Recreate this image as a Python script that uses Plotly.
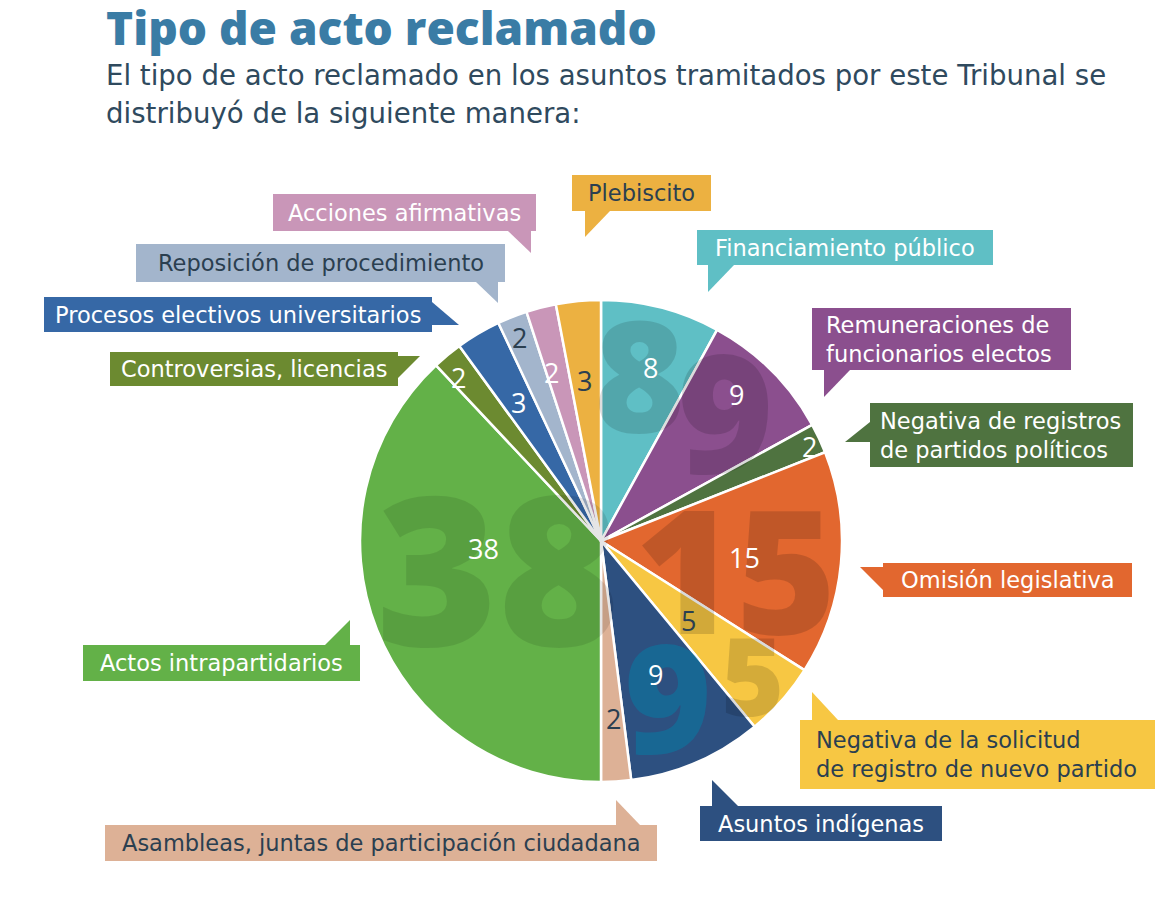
import math
import plotly.graph_objects as go

# page has an 8px body margin; the figure is sized to fit the 1170x913 window
OFF = 8
W, H = 1170 - 2 * OFF, 913 - 2 * OFF

# ---- data ----
categorias = [
    "Financiamiento público",
    "Remuneraciones de\nfuncionarios electos",
    "Negativa de registros\nde partidos políticos",
    "Omisión legislativa",
    "Negativa de la solicitud\nde registro de nuevo partido",
    "Asuntos indígenas",
    "Asambleas, juntas de participación ciudadana",
    "Actos intrapartidarios",
    "Controversias, licencias",
    "Procesos electivos universitarios",
    "Reposición de procedimiento",
    "Acciones afirmativas",
    "Plebiscito",
]
valores = [8, 9, 2, 15, 5, 9, 2, 38, 2, 3, 2, 2, 3]

titulo = "Tipo de acto reclamado"
subtitulo = ["El tipo de acto reclamado en los asuntos tramitados por este Tribunal se",
             "distribuyó de la siguiente manera:"]

# ---- styles ----
colores = ["#5FBFC5", "#8B4F8E", "#4F7340", "#E2672F", "#F7C743", "#2D5080",
           "#DDB196", "#63B148", "#6C8A30", "#3668A6", "#A3B5CC", "#C996B8", "#ECB141"]
DARK = "#2B3F50"
txtcol = ["white", "white", "white", "white", DARK, "white",
          DARK, "white", "white", "white", DARK, "white", DARK]
FONT = "DejaVu Sans"
NUMFONT = "Open Sans"

# pie geometry (window pixels)
CX, CY, R = 601, 541, 241

# value-label placement inside each slice: (fraction along slice, fraction of radius)
lab_pos = [(0.55, 0.75), (0.43, 0.83), (0.6, 0.95), (0.52, 0.6), (0.55, 0.49),
           (0.54, 0.6), (0.46, 0.74), (0.63, 0.49), (0.3, 0.9), (0.47, 0.67),
           (0.47, 0.91), (0.25, 0.73), (0.47, 0.67)]
# big decorative numbers: index -> (fraction along slice, radius fraction, size, colour)
overlay = {
    7: (0.56, 0.44, 208, "rgba(0,0,0,0.10)"),
    3: (0.6, 0.57, 172, "rgba(0,0,0,0.15)"),
    0: (0.45, 0.72, 155, "rgba(0,0,0,0.13)"),
    1: (0.45, 0.75, 165, "rgba(0,0,0,0.14)"),
    5: (0.5, 0.70, 150, "rgba(0,130,170,0.45)"),
    4: (0.5, 0.84, 108, "rgba(0,0,0,0.14)"),
}


def px(x):
    return (x - OFF) / W


def py(y):
    return 1 - (y - OFF) / H


fig = go.Figure()
fig.add_trace(go.Pie(
    labels=[c.replace("\n", " ") for c in categorias],
    values=valores,
    sort=False,
    direction="clockwise",
    rotation=0,
    marker=dict(colors=colores, line=dict(color="white", width=2.5)),
    textinfo="none",
    hoverinfo="label+value",
    showlegend=False,
    domain=dict(x=[px(CX - R), px(CX + R)], y=[py(CY + R), py(CY - R)]),
))

shapes = []
annotations = []

total = sum(valores)
starts = []
cum = 0
for v in valores:
    starts.append(cum)
    cum += v


def polar(i, t, f):
    a = (starts[i] + t * valores[i]) / total * 2 * math.pi
    return CX + f * R * math.sin(a), CY - f * R * math.cos(a)


# decorative big numbers
for i, (t, f, size, col) in overlay.items():
    x, y = polar(i, t, f)
    annotations.append(dict(x=px(x), y=py(y), xref="paper", yref="paper",
                            text=str(valores[i]), showarrow=False,
                            font=dict(size=size, color=col, family=NUMFONT, weight=800),
                            xanchor="center", yanchor="middle"))

# value labels
for i, v in enumerate(valores):
    t, f = lab_pos[i]
    x, y = polar(i, t, f)
    annotations.append(dict(x=px(x), y=py(y), xref="paper", yref="paper",
                            text=str(v), showarrow=False,
                            font=dict(size=27, color=txtcol[i], family=NUMFONT),
                            xanchor="center", yanchor="middle"))

# callouts: index -> (box x0,y0,x1,y1), tail polygon, left padding (None = centred)
callouts = {
    12: ((572, 175, 711, 211), [(585, 211), (610, 211), (585, 237)], None),
    0: ((697, 230, 993, 265), [(708, 265), (734, 265), (708, 292)], None),
    1: ((812, 308, 1071, 370), [(824, 370), (850, 370), (824, 397)], 12),
    2: ((870, 403, 1133, 467), [(870, 422), (870, 442), (845, 442)], 8),
    3: ((883, 563, 1132, 597), [(883, 567), (883, 590), (860, 567)], None),
    4: ((800, 720, 1155, 789), [(812, 720), (838, 720), (812, 692)], 14),
    5: ((700, 806, 942, 841), [(712, 806), (738, 806), (712, 780)], None),
    6: ((105, 825, 657, 861), [(640, 825), (616, 825), (616, 800)], None),
    7: ((83, 645, 360, 681), [(350, 645), (325, 645), (350, 620)], None),
    8: ((110, 352, 398, 386), [(398, 356), (398, 378), (420, 356)], None),
    9: ((44, 297, 432, 332), [(432, 302), (432, 325), (459, 325)], None),
    10: ((136, 244, 505, 282), [(476, 282), (498, 282), (498, 303)], None),
    11: ((273, 194, 536, 231), [(508, 231), (531, 231), (531, 253)], None),
}

for i, (box, tail, pad) in callouts.items():
    x0, y0, x1, y1 = box
    shapes.append(dict(type="rect", xref="paper", yref="paper",
                       x0=px(x0), x1=px(x1), y0=py(y1), y1=py(y0),
                       fillcolor=colores[i], line=dict(width=0), layer="above"))
    path = "M " + " L ".join(f"{px(a):.5f},{py(b):.5f}" for a, b in tail) + " Z"
    shapes.append(dict(type="path", xref="paper", yref="paper", path=path,
                       fillcolor=colores[i], line=dict(width=0), layer="above"))
    text = categorias[i].replace("\n", "<br>")
    if pad is None:
        ax, xa = (x0 + x1) / 2, "center"
    else:
        ax, xa = x0 + pad, "left"
    annotations.append(dict(x=px(ax), y=py((y0 + y1) / 2), xref="paper", yref="paper",
                            text=text, showarrow=False, align="left",
                            xanchor=xa, yanchor="middle",
                            font=dict(size=22.5, color=txtcol[i], family=FONT)))

# title & subtitle
annotations.append(dict(x=px(104), y=py(27), xref="paper", yref="paper", text=titulo,
                        showarrow=False, xanchor="left", yanchor="middle",
                        font=dict(size=46, color="#3A7CA5", family="Open Sans", weight=800)))
for k, line in enumerate(subtitulo):
    annotations.append(dict(x=px(104), y=py(75 + 38 * k), xref="paper", yref="paper",
                            text=line, showarrow=False, xanchor="left", yanchor="middle",
                            font=dict(size=27.6, color="#2F4A5E", family=FONT)))

fig.update_layout(
    width=W, height=H, autosize=False,
    margin=dict(l=0, r=0, t=0, b=0),
    paper_bgcolor="white", plot_bgcolor="white",
    shapes=shapes, annotations=annotations,
)

fig.write_html("out.html")
